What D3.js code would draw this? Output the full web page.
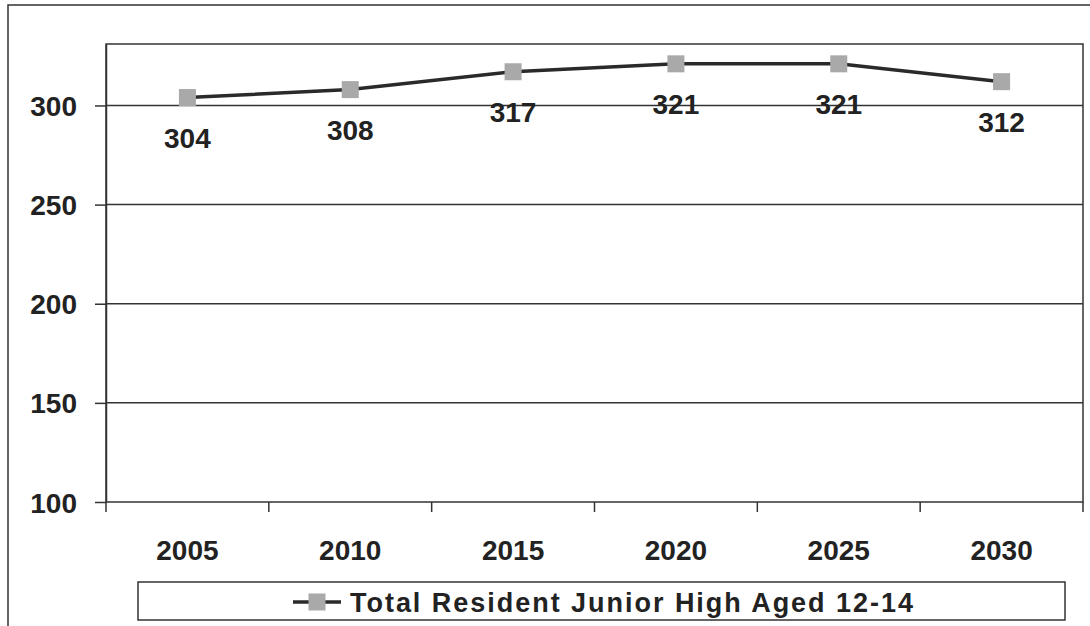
<!DOCTYPE html>
<html>
<head>
<meta charset="utf-8">
<script src="https://cdn.jsdelivr.net/npm/d3@7"></script>
<style>
  body { margin: 0; background: #fff; }
  text { font-family: "Liberation Sans", Arial, sans-serif; font-weight: bold; fill: #222; }
</style>
</head>
<body>
<svg width="1090" height="626"></svg>
<script>
/* Data */

var years = ["2005", "2010", "2015", "2020", "2025", "2030"];
var students = [304, 308, 317, 321, 321, 312];
var yTicks = [100, 150, 200, 250, 300];
var seriesName = "Total Resident Junior High Aged 12-14";

/* Setup */

var svg = d3.select("svg");

var plot = { left: 106, top: 44, right: 1083, bottom: 502 };

var x = d3.scaleBand()
    .domain(years)
    .range([plot.left, plot.right]);

var y = d3.scaleLinear()
    .domain([100, 331])
    .range([plot.bottom, plot.top]);

// outer frame (only left and top show in the picture)
svg.append("path")
    .attr("d", "M8,640 L8,5 L1100,5")
    .attr("fill", "none")
    .attr("stroke", "#333")
    .attr("stroke-width", 1.5);

// plot area box
svg.append("rect")
    .attr("x", plot.left)
    .attr("y", plot.top)
    .attr("width", plot.right - plot.left)
    .attr("height", plot.bottom - plot.top)
    .attr("fill", "none")
    .attr("stroke", "#333")
    .attr("stroke-width", 1.5);

// gridlines
svg.selectAll(".grid")
    .data(yTicks.slice(1))
    .enter().append("line")
    .classed("grid", true)
    .attr("x1", plot.left)
    .attr("x2", plot.right)
    .attr("y1", (d) => y(d))
    .attr("y2", (d) => y(d))
    .attr("stroke", "#333")
    .attr("stroke-width", 1.5);

/* Axes */

var yAxis = svg.append("g")
    .attr("transform", `translate(${plot.left},0)`)
    .call(d3.axisLeft(y).tickValues(yTicks).tickSizeInner(11).tickSizeOuter(0).tickPadding(18));

yAxis.select(".domain").attr("stroke", "#333").attr("stroke-width", 1.5);
yAxis.selectAll(".tick line").attr("stroke", "#333").attr("stroke-width", 1.5);
yAxis.selectAll(".tick text")
    .attr("fill", "#222")
    .style("font-size", "28px")
    .attr("dy", "0.36em");

// category ticks sit between the categories
var xEdges = years.map((d) => x(d)).concat([plot.right]);
svg.selectAll(".xtick")
    .data(xEdges)
    .enter().append("line")
    .classed("xtick", true)
    .attr("x1", (d) => d)
    .attr("x2", (d) => d)
    .attr("y1", plot.bottom)
    .attr("y2", plot.bottom + 10)
    .attr("stroke", "#333")
    .attr("stroke-width", 1.5);

svg.selectAll(".xlabel")
    .data(years)
    .enter().append("text")
    .classed("xlabel", true)
    .attr("x", (d) => x(d) + x.bandwidth() / 2)
    .attr("y", 560)
    .attr("text-anchor", "middle")
    .style("font-size", "28px")
    .text((d) => d);

/* Series */

var pts = years.map((d, i) => ({ year: d, v: students[i] }));

var line = d3.line()
    .x((d) => x(d.year) + x.bandwidth() / 2)
    .y((d) => y(d.v));

svg.append("path")
    .datum(pts)
    .attr("d", line)
    .attr("fill", "none")
    .attr("stroke", "#2a2a2a")
    .attr("stroke-width", 3.5);

var ms = 17;
svg.selectAll(".marker")
    .data(pts)
    .enter().append("rect")
    .classed("marker", true)
    .attr("x", (d) => x(d.year) + x.bandwidth() / 2 - ms / 2)
    .attr("y", (d) => y(d.v) - ms / 2)
    .attr("width", ms)
    .attr("height", ms)
    .attr("fill", "#a9a9a9");

svg.selectAll(".vlabel")
    .data(pts)
    .enter().append("text")
    .classed("vlabel", true)
    .attr("x", (d) => x(d.year) + x.bandwidth() / 2)
    .attr("y", (d) => y(d.v) + 50)
    .attr("text-anchor", "middle")
    .style("font-size", "28px")
    .text((d) => d.v);

/* Legend */

var legend = svg.append("g");

legend.append("rect")
    .attr("x", 138)
    .attr("y", 582)
    .attr("width", 927)
    .attr("height", 38)
    .attr("fill", "#fff")
    .attr("stroke", "#333")
    .attr("stroke-width", 1.5);

legend.append("line")
    .attr("x1", 293)
    .attr("x2", 341)
    .attr("y1", 602)
    .attr("y2", 602)
    .attr("stroke", "#2a2a2a")
    .attr("stroke-width", 3.5);

legend.append("rect")
    .attr("x", 317 - ms / 2)
    .attr("y", 602 - ms / 2)
    .attr("width", ms)
    .attr("height", ms)
    .attr("fill", "#a9a9a9");

legend.append("text")
    .attr("x", 350)
    .attr("y", 612)
    .attr("textLength", 563)
    .attr("lengthAdjust", "spacing")
    .style("font-size", "27px")
    .text(seriesName);
</script>
</body>
</html>
